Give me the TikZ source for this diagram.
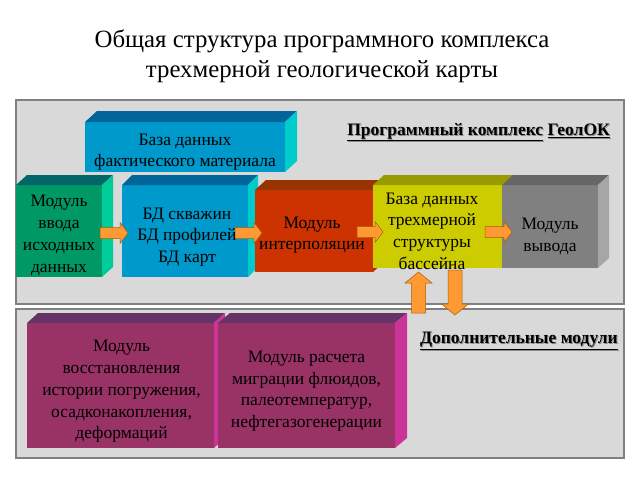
\documentclass[tikz,border=0pt]{standalone}
\usepackage{fontspec}
\setmainfont{Liberation Serif}
\usetikzlibrary{calc}
\definecolor{factF}{HTML}{0099CC}\definecolor{factT}{HTML}{006699}\definecolor{factS}{HTML}{00CCCC}
\definecolor{vvodF}{HTML}{009966}\definecolor{vvodT}{HTML}{006666}\definecolor{vvodS}{HTML}{00CC99}
\definecolor{intF}{HTML}{CC3300}\definecolor{intT}{HTML}{993300}\definecolor{intS}{HTML}{B32D00}
\definecolor{yelF}{HTML}{CCCC00}\definecolor{yelT}{HTML}{999900}\definecolor{yelS}{HTML}{B3B300}
\definecolor{gryF}{HTML}{808080}\definecolor{gryT}{HTML}{666666}\definecolor{gryS}{HTML}{A6A6A6}
\definecolor{purF}{HTML}{993366}\definecolor{purT}{HTML}{663366}\definecolor{purS}{HTML}{CC3399}
\definecolor{panelF}{HTML}{D9D9D9}\definecolor{panelD}{HTML}{808080}
\definecolor{arrF}{HTML}{FF9933}\definecolor{arrD}{HTML}{A65E00}
\tikzset{
  panel/.style={draw=panelD, line width=1.2pt, fill=panelF, inner sep=0pt, outer sep=0pt},
  boxf/.style={inner sep=0pt, outer sep=0pt},
  boxtext/.style={align=center, inner sep=0pt, font=\fontsize{17.5}{21.7}\selectfont, text=black},
  blockarrow/.style={fill=arrF, draw=arrD, line width=0.5pt, line join=miter},
  hdr/.style={font=\bfseries\fontsize{17.5}{20}\selectfont, inner sep=0pt},
  ttl/.style={align=center, font=\fontsize{24.8}{30}\selectfont, inner sep=0pt},
}
% name, center, width, height, colour prefix, dx, dy, text, text shift (y positive = down)
\newcommand\cubebox[9]{%
  \node[boxf, fill=#5F, minimum width=#3pt, minimum height=#4pt] (#1) at #2 {};
  \fill[#5T] (#1.north west) -- ++(#6pt,#7pt) -- ([shift={(#6pt,#7pt)}]#1.north east) -- (#1.north east) -- cycle;
  \fill[#5S] (#1.north east) -- ++(#6pt,#7pt) -- ([shift={(#6pt,#7pt)}]#1.south east) -- (#1.south east) -- cycle;
  \node[boxtext] (#1t) at ([shift={#9}]#1.center) {#8};
}
% horizontal block arrow from #1 to #2
\newcommand\harrow[2]{%
  \draw[blockarrow] let \p1=(#1), \p2=(#2) in
    (\x1,\y1+5.5pt) -- (\x2-8pt,\y1+5.5pt) -- (\x2-8pt,\y1+10.5pt) -- (\x2,\y1)
    -- (\x2-8pt,\y1-10.5pt) -- (\x2-8pt,\y1-5.5pt) -- (\x1,\y1-5.5pt) -- cycle;
}
% vertical block arrow from #1 to #2 (#3 = +1 downwards, -1 upwards)
\newcommand\varrow[3]{%
  \draw[blockarrow] let \p1=(#1), \p2=(#2) in
    (\x1-7pt,\y1) -- (\x1-7pt,\y2+#3*11pt) -- (\x1-13.5pt,\y2+#3*11pt) -- (\x1,\y2)
    -- (\x1+13.5pt,\y2+#3*11pt) -- (\x1+7pt,\y2+#3*11pt) -- (\x1+7pt,\y1) -- cycle;
}
\begin{document}
\begin{tikzpicture}[x=1pt, y=-1pt]
\useasboundingbox (0,0) rectangle (640,480);
\fill[white] (0,0) rectangle (640,480);
% title
\node[ttl] (title) at (322,56) {Общая структура программного комплекса\\трехмерной геологической карты};
% panels
\node[panel, minimum width=608pt, minimum height=204pt] (top) at (320,202) {};
\node[panel, minimum width=608pt, minimum height=149pt] (bot) at (320,383.5) {};
% header labels with shadow
\node[hdr, text=black!45, anchor=east] (hdr1s) at (611,133) {\underline{Программный комплекс}\ \underline{ГеолОК}};
\node[hdr, anchor=east] (hdr1) at (610,132) {\underline{Программный комплекс}\ \underline{ГеолОК}};
\node[hdr, text=black!45, anchor=east] (hdr2s) at (619,342) {\underline{Дополнительные модули}};
\node[hdr, anchor=east] (hdr2) at (618,341) {\underline{Дополнительные модули}};
% boxes
\cubebox{fact}{(185,147)}{200}{50}{fact}{12}{11}{База данных\\фактического материала}{(0,5)}
\cubebox{vvod}{(59,231)}{86}{92}{vvod}{11}{10}{Модуль\\ввода\\исходных\\данных}{(0,4.5)}
\cubebox{bd}{(185,231)}{126}{92}{fact}{10}{10}{БД скважин\\БД профилей\\БД карт}{(2,6)}
\cubebox{int}{(314,231)}{118}{82}{int}{11}{10}{Модуль\\интерполяции}{(-2,4)}
\cubebox{yel}{(438,226.5)}{130}{83}{yel}{11}{10}{База данных\\трехмерной\\структуры\\бассейна}{(-6,4.5)}
\cubebox{gry}{(550,226.5)}{96}{83}{gry}{11}{10}{Модуль\\вывода}{(0,10)}
\cubebox{pur1}{(120.5,385.5)}{187}{125}{pur}{11}{10}{Модуль\\восстановления\\истории погружения,\\осадконакопления,\\деформаций}{(1,6)}
\cubebox{pur2}{(306.5,385.5)}{177}{125}{pur}{12}{10}{Модуль расчета\\миграции флюидов,\\палеотемператур,\\нефтегазогенерации}{(0,5.5)}
% arrows
\harrow{$(vvod.east)+(-2,2)$}{$(bd.west)+(6,2)$}
\harrow{$(bd.east)+(-13,2)$}{$(int.west)+(7,2)$}
\harrow{$(int.east)+(-16,1)$}{$(yel.west)+(10,1)$}
\harrow{$(yel.east)+(-18,5.5)$}{$(gry.west)+(10,5.5)$}
\varrow{$(bot.north)+(98.5,4)$}{$(yel.south)+(-19.5,4)$}{-1}
\varrow{$(yel.south)+(17,2)$}{$(bot.north)+(135,6)$}{1}
\end{tikzpicture}
\end{document}
